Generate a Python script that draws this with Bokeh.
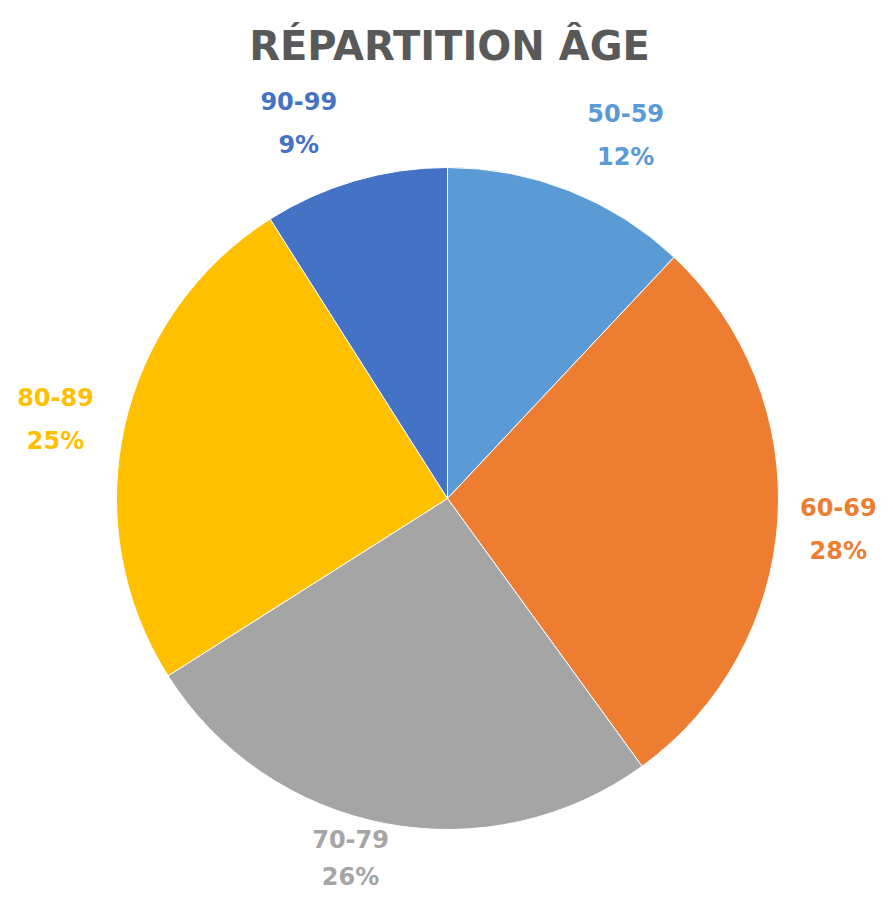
import math
from bokeh.plotting import figure
from bokeh.models import Range1d, ColumnDataSource
from bokeh.core.properties import value
from bokeh.embed import file_html
from bokeh.resources import INLINE

# ---- data ----
categories = ["50-59", "60-69", "70-79", "80-89", "90-99"]
percents = [12, 28, 26, 25, 9]
colors = ["#5B9BD5", "#ED7D31", "#A5A5A5", "#FFC000", "#4472C4"]
title_text = "RÉPARTITION ÂGE"

# ---- layout/style ----
W, H = 877, 893
# data units = picture pixels, y measured upward from picture bottom (909)
CX, CY = 447, 909 - 498   # pie centre
R = 331
label_radius = [405, 392, 372, 400, 404]
label_nudge_deg = [4.5, 0.8, 4.3, -1.1, -5.4]
line_gap = [22, 22, 19, 22, 22]

p = figure(width=W, height=H, output_backend="svg", toolbar_location=None,
           x_range=Range1d(0, W), y_range=Range1d(909 - H, 909),
           min_border=0, outline_line_color=None)
p.axis.visible = False
p.grid.visible = False
p.background_fill_color = "white"
p.border_fill_color = "white"

total = sum(percents)
starts, ends, mids = [], [], []
cum = 0.0
for v in percents:
    a0 = cum / total
    cum += v
    a1 = cum / total
    # clockwise from top
    starts.append(math.pi / 2 - a1 * 2 * math.pi)
    ends.append(math.pi / 2 - a0 * 2 * math.pi)
    mids.append((a0 + a1) / 2 * 360.0)

src = ColumnDataSource(dict(start=starts, end=ends, color=colors, cat=categories))
p.wedge(x=CX, y=CY, radius=R, start_angle="start", end_angle="end",
        fill_color="color", line_color="white", line_width=1, source=src)

lx, ly1, ly2, t1, t2 = [], [], [], [], []
for i, cat in enumerate(categories):
    ang = math.radians(mids[i] + label_nudge_deg[i])
    x = CX + label_radius[i] * math.sin(ang)
    y = CY + label_radius[i] * math.cos(ang)
    lx.append(x)
    ly1.append(y + line_gap[i])
    ly2.append(y - line_gap[i])
    t1.append(cat)
    t2.append(f"{percents[i]}%")

lsrc = ColumnDataSource(dict(x=lx, y1=ly1, y2=ly2, t1=t1, t2=t2, color=colors))
for ycol, tcol in (("y1", "t1"), ("y2", "t2")):
    p.text(x="x", y=ycol, text=tcol, source=lsrc, text_color="color",
           text_font=value("DejaVu Sans"), text_font_style="bold",
           text_font_size="24px", text_align="center", text_baseline="middle")

p.text(x=[449], y=[909 - 45], text=[title_text], text_color="#595959",
       text_font=value("DejaVu Sans"), text_font_style="bold",
       text_font_size="40px", text_align="center", text_baseline="alphabetic")

open("out.html", "w").write(file_html(p, INLINE))
